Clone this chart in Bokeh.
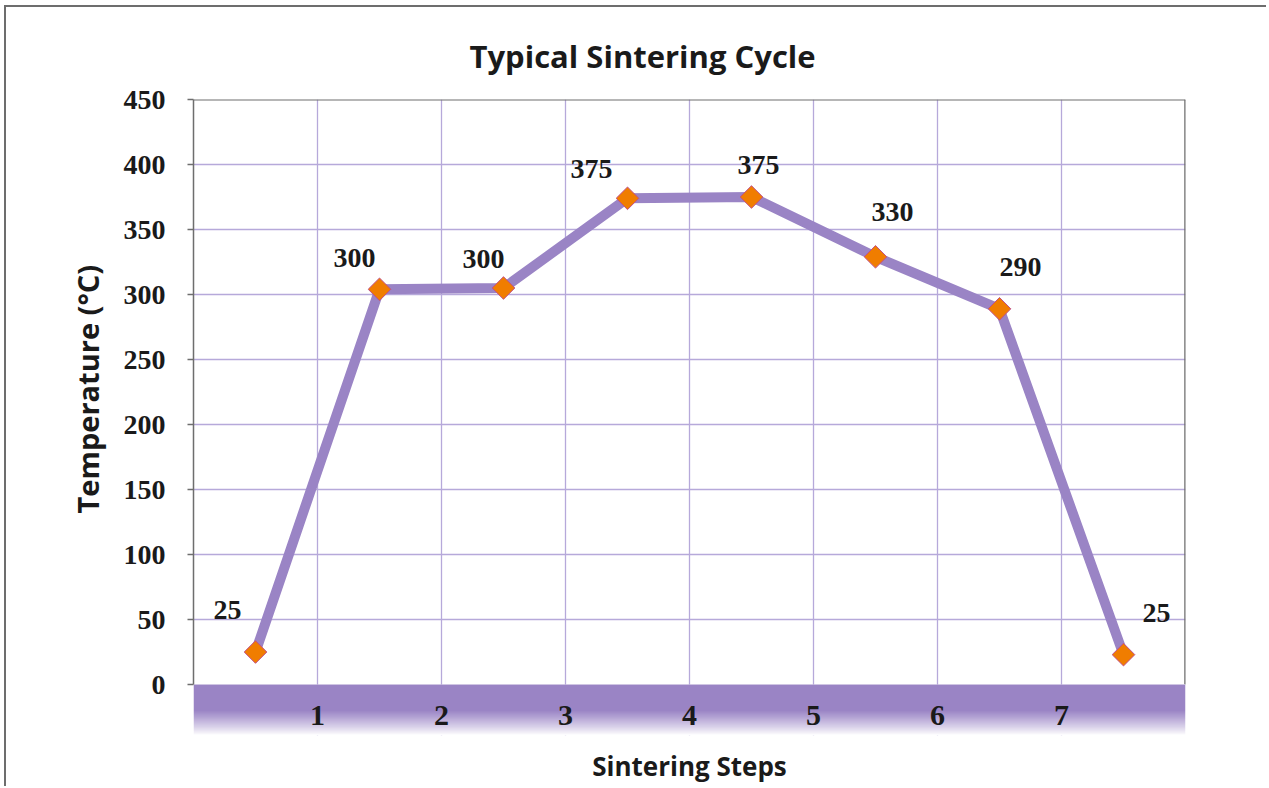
import numpy as np
from bokeh.plotting import figure
from bokeh.models import Range1d, FixedTicker, ColumnDataSource, Title, Span
from bokeh.core.properties import value
from bokeh.embed import file_html
from bokeh.resources import INLINE

# ---- data ----
steps_x = [0.5, 1.5, 2.5, 3.5, 4.5, 5.5, 6.5, 7.5]
temps = [25, 304, 305, 374, 375, 329, 289, 23]
point_labels = ["25", "300", "300", "375", "375", "330", "290", "25"]
label_dx = [-28, -25, -20, -36, 7, 17, 21, 33]
label_dy = [-42, -31, -29, -29, -32, -45, -42, -42]
step_ticks = [1, 2, 3, 4, 5, 6, 7]
step_labels = ["1", "2", "3", "4", "5", "6", "7"]
y_ticks = [0, 50, 100, 150, 200, 250, 300, 350, 400, 450]

PURPLE = "#9a84c5"
GRID = "#b6a9da"
FRAME = "#6e6e6e"
TXT = "#1a1a1a"

W, H = 1262, 781
Y0 = -39.2

p = figure(width=W, height=H, output_backend="svg", toolbar_location=None,
           x_range=Range1d(0, 8), y_range=Range1d(Y0, 450),
           min_border_left=187, min_border_right=83,
           min_border_top=92, min_border_bottom=53)
p.styles = {"border-left": "2px solid #6d6d6d", "border-top": "2px solid #6d6d6d",
            "margin-left": "4px", "margin-top": "5px"}
p.outline_line_color = None
p.background_fill_color = "white"
p.border_fill_color = "white"

title = Title(text="Typical Sintering Cycle", align="left", offset=276,
              text_font="Open Sans", text_font_size="31px", text_font_style="bold",
              text_color=TXT, standoff=46)
p.add_layout(title, "above")

ytitle = Title(text="Temperature (°C)", align="left", offset=222,
               text_font="Open Sans", text_font_size="29px", text_font_style="bold",
               text_color=TXT, standoff=27)
p.add_layout(ytitle, "left")

# y axis
p.yaxis.ticker = FixedTicker(ticks=y_ticks)
p.yaxis.bounds = (0, 450)
p.yaxis.axis_line_color = FRAME
p.yaxis.axis_line_width = 1.5
p.yaxis.major_tick_line_color = FRAME
p.yaxis.major_tick_line_width = 1.5
p.yaxis.major_tick_out = 6
p.yaxis.major_tick_in = 0
p.yaxis.minor_tick_line_color = None
p.yaxis.major_label_standoff = 22
p.yaxis.major_label_text_font = "Liberation Serif"
p.yaxis.major_label_text_font_style = "bold"
p.yaxis.major_label_text_font_size = "28px"
p.yaxis.major_label_text_color = TXT

# x axis (label only)
p.xaxis.ticker = FixedTicker(ticks=[])
p.xaxis.axis_line_color = None
p.xaxis.major_tick_line_color = None
p.xaxis.minor_tick_line_color = None
p.xaxis.major_label_standoff = 0
p.xaxis.axis_label = "Sintering Steps"
p.xaxis.axis_label_text_font = "Open Sans"
p.xaxis.axis_label_text_font_style = "bold"
p.xaxis.axis_label_text_font_size = "26px"
p.xaxis.axis_label_text_color = TXT
p.xaxis.axis_label_standoff = 12

# grids
p.xgrid.ticker = FixedTicker(ticks=step_ticks)
p.ygrid.ticker = FixedTicker(ticks=y_ticks[1:-1])
for g in (p.xgrid, p.ygrid):
    g.grid_line_color = GRID
    g.grid_line_width = 1.3

# frame top/right borders
p.add_layout(Span(location=450, dimension="width", line_color=FRAME, line_width=2))
p.segment(x0=[8], y0=[0], x1=[8], y1=[450], line_color=FRAME, line_width=2.5)

# purple band with fading lower edge
p.quad(left=[0], right=[8], bottom=[Y0], top=[0], fill_color="white", line_color=None)
rows = 51
fade = 24
img = np.zeros((rows, 1), dtype=np.uint32)
view = img.view(dtype=np.uint8).reshape((rows, 1, 4))
for i in range(rows):
    a = (i / fade) ** 0.9 if i < fade else 1.0
    view[i, 0, 0] = 0x9a
    view[i, 0, 1] = 0x84
    view[i, 0, 2] = 0xc5
    view[i, 0, 3] = int(round(255 * a))
p.image_rgba(image=[img], x=0, y=Y0, dw=8, dh=-Y0)

# step labels inside band
p.text(x=step_ticks, y=[-24] * len(step_ticks), text=step_labels,
       text_font=value("Liberation Serif"), text_font_style="bold",
       text_font_size="30px", text_color=TXT,
       text_align="center", text_baseline="middle")

# series
src = ColumnDataSource(dict(x=steps_x, y=temps, lab=point_labels,
                            dx=label_dx, dy=label_dy))
p.line("x", "y", source=src, line_color=PURPLE, line_width=10, line_join="round")
p.scatter("x", "y", source=src, marker="square", angle=np.pi / 4, size=16,
          fill_color="#f07d00", line_color="#c0508a", line_width=1)
p.text("x", "y", text="lab", source=src, x_offset="dx", y_offset="dy",
       text_font=value("Liberation Serif"), text_font_style="bold",
       text_font_size="28px", text_color=TXT,
       text_align="center", text_baseline="middle")

open("out.html", "w").write(file_html(p, INLINE))
